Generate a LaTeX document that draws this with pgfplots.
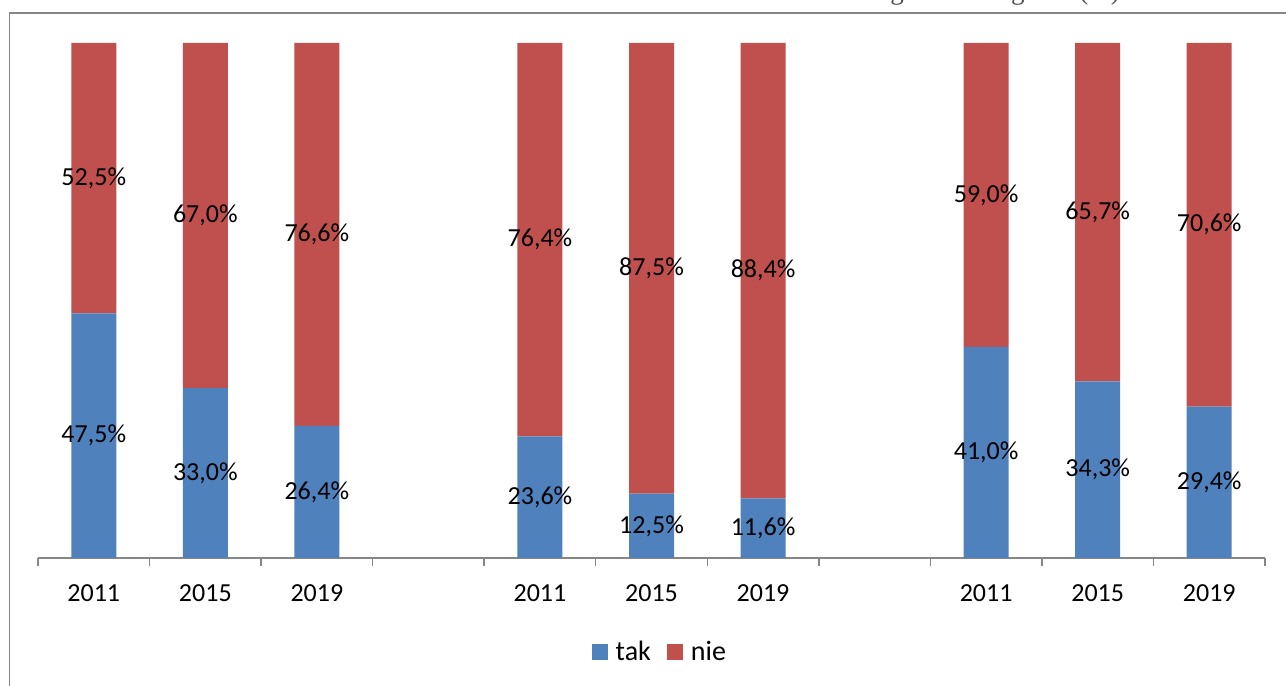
\documentclass[border=0pt]{standalone}
\usepackage{fontspec}
\setmainfont{Carlito}
\newfontfamily\capfont{Liberation Serif}
\usepackage{pgfplots}
\usepackage{pgfplotstable}
\pgfplotsset{compat=1.18}

\definecolor{takblue}{HTML}{4F81BD}
\definecolor{niered}{HTML}{C0504D}
\definecolor{axisgray}{HTML}{868686}

% answers "tak" / "nie" (%) for three groups, years 2011, 2015, 2019
% x: slot on the category axis (3 and 7 are the gaps between groups)
\pgfplotstableread{
x  tak   nie
0  47.5  52.5
1  33.0  67.0
2  26.4  76.6
4  23.6  76.4
5  12.5  87.5
6  11.6  88.4
8  41.0  59.0
9  34.3  65.7
10 29.4  70.6
}\shares

\newcommand{\lblfont}{\fontsize{26bp}{31bp}\selectfont}

\pgfplotsset{
  chartbox/.style={
    scale only axis, width=1227bp, height=515bp,
    at={(38bp,128bp)}, anchor=south west,
    xmin=-0.5, xmax=10.5, ymin=0, ymax=100, clip=false,
  },
}

\begin{document}
\begin{tikzpicture}[x=1bp,y=1bp]
\useasboundingbox (0,0) rectangle (1286,686);
\clip (0,0) rectangle (1286,686);
\fill[white] (0,0) rectangle (1286,686);

% caption above the chart frame
\node[anchor=base east, inner sep=0pt, text=black!70,
      font=\capfont\fontsize{27bp}{32bp}\selectfont] at (1120,686.5)
      {Odsetek ocen w gminach regionu (\%)};

% chart frame
\draw[axisgray, line width=1.5bp] (9.5,-10) -- (9.5,673) -- (1300,673);

% 100% stacked bars
\begin{axis}[chartbox,
  ybar stacked, bar width=45bp,
  axis x line=bottom, axis y line=none,
  x axis line style={-, draw=axisgray, line width=1.5bp},
  xtick={0,1,2,4,5,6,8,9,10},
  xticklabels={2011,2015,2019,2011,2015,2019,2011,2015,2019},
  major tick length=0pt,
  xticklabel style={font=\lblfont, anchor=base, yshift=-44bp},
  extra x ticks={-0.5,0.5,1.5,2.5,3.5,4.5,5.5,6.5,7.5,8.5,9.5,10.5},
  extra x tick labels={},
  extra x tick style={major tick length=8bp, tick align=outside,
    major tick style={draw=axisgray, line width=1.5bp}},
  legend style={at={(0.506,-0.1825)}, anchor=center, draw=none, fill=none,
    font=\fontsize{28bp}{33bp}\selectfont, legend columns=2,
    nodes={inner xsep=0pt},
    /tikz/every odd column/.append style={column sep=8bp},
    /tikz/every even column/.append style={column sep=16bp}},
]
\addplot[fill=takblue, draw=none,
  legend image code/.code={\fill[takblue] (0bp,-8bp) rectangle (16bp,8bp);}]
  table[x=x, y expr={100*\thisrow{tak}/(\thisrow{tak}+\thisrow{nie})}] {\shares};
\addlegendentry{tak}
\addplot[fill=niered, draw=none,
  legend image code/.code={\fill[niered] (0bp,-8bp) rectangle (16bp,8bp);}]
  table[x=x, y expr={100*\thisrow{nie}/(\thisrow{tak}+\thisrow{nie})}] {\shares};
\addlegendentry{nie}
\end{axis}

% value labels, centred in each segment
\begin{axis}[chartbox, axis lines=none,
  nodes near coords={\pgfmathprintnumber[fixed, fixed zerofill, precision=1,
    use comma, assume math mode=true]{\pgfplotspointmeta}\%},
  nodes near coords align=center,
  every node near coord/.append style={font=\lblfont, text=black, inner sep=0pt},
]
\addplot[draw=none, mark=none, point meta=\thisrow{tak}]
  table[x=x, y expr={50*\thisrow{tak}/(\thisrow{tak}+\thisrow{nie})}] {\shares};
\addplot[draw=none, mark=none, point meta=\thisrow{nie}]
  table[x=x, y expr={100*(\thisrow{tak}+0.5*\thisrow{nie})/(\thisrow{tak}+\thisrow{nie})}] {\shares};
\end{axis}
\end{tikzpicture}
\end{document}
